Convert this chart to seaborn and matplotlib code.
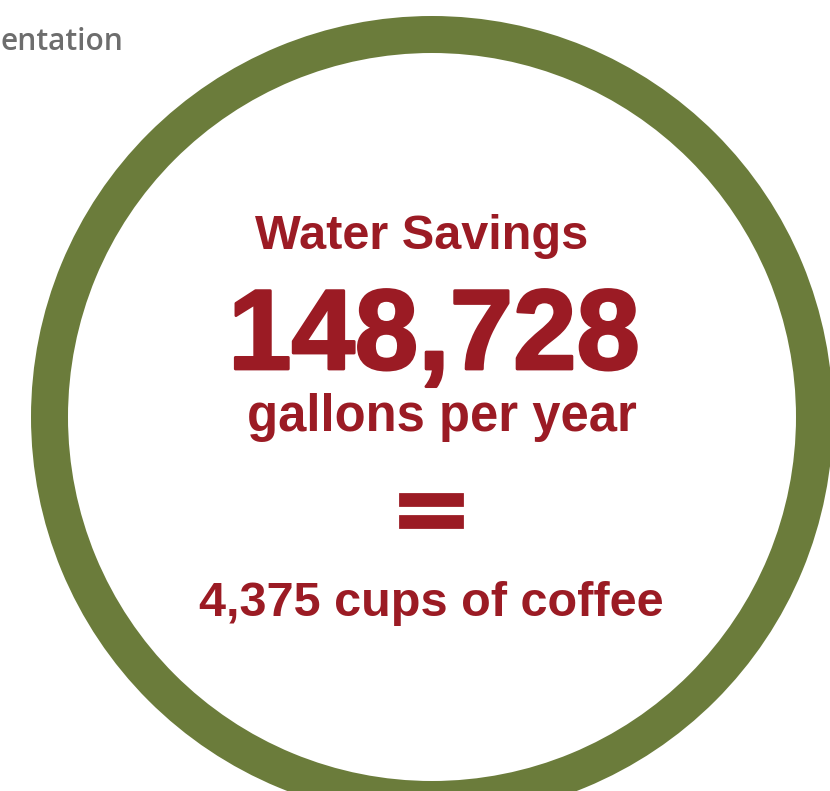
import matplotlib
matplotlib.use("Agg")
import matplotlib.pyplot as plt
import matplotlib.patheffects as pe
import seaborn as sns

# values shown in the graphic
ring_share = [1]
headline = "Water Savings"
savings_gallons = 148728
savings_unit = "gallons per year"
equals_sign = "="
coffee_cups = 4375
coffee_unit = "cups of coffee"
corner_label = "entation"   # only the tail of the header is visible

green = "#6b7c3b"
red = "#9b1b24"

sns.set_theme(style="white")
plt.rcParams['font.family'] = ['Liberation Sans', 'DejaVu Sans']

fig = plt.figure(figsize=(8.3, 7.91), dpi=100)
ax = fig.add_axes([0, 0, 1, 1])

# the ring, as a one-slice donut
ax.pie(ring_share, colors=[green], radius=401, center=(432, 417),
       wedgeprops=dict(width=37, linewidth=0), startangle=90)

ax.set_xlim(0, 830)
ax.set_ylim(791, 0)
ax.set_aspect('equal')
ax.axis('off')

# text inside the ring
ax.text(422, 249, headline, ha='center', va='baseline',
        fontsize=35, fontweight='bold', color=red)
ax.text(434, 369, f"{savings_gallons:,}", ha='center', va='baseline',
        fontsize=82, fontweight='bold', color=red,
        path_effects=[pe.withStroke(linewidth=2, foreground=red)])
ax.text(442, 431, savings_unit, ha='center', va='baseline',
        fontsize=36.5, fontweight='bold', color=red)
ax.text(431, 514, equals_sign, ha='center', va='center',
        fontsize=71, fontweight='bold', color=red, family=['DejaVu Sans'],
        path_effects=[pe.withStroke(linewidth=2, foreground=red,
                                    joinstyle='miter')])
ax.text(431, 616, f"{coffee_cups:,} {coffee_unit}", ha='center', va='baseline',
        fontsize=35, fontweight='bold', color=red)

# header fragment in the top left corner
ax.text(0, 50, corner_label, ha='left', va='baseline',
        fontsize=21.5, fontweight='semibold', color='#6d6d6d',
        family=['Open Sans', 'DejaVu Sans'])

fig.savefig("out.png", dpi=100)
